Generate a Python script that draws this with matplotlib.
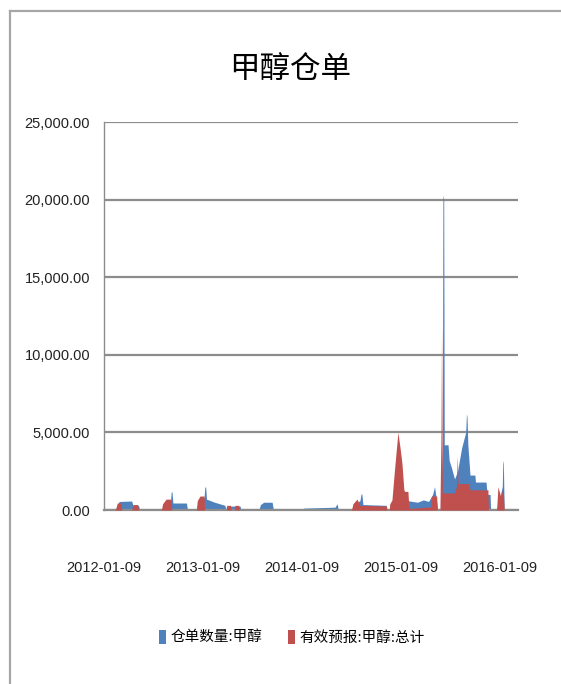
import matplotlib
matplotlib.use("Agg")
import matplotlib.pyplot as plt
from matplotlib.patches import Patch
from matplotlib.lines import Line2D
import pandas as pd

# ---------------- data ----------------
title = "甲醇仓单"
series_names = ["仓单数量:甲醇", "有效预报:甲醇:总计"]
x_ticks = ["2012-01-09", "2013-01-09", "2014-01-09", "2015-01-09", "2016-01-09"]
y_ticks = [0, 5000, 10000, 15000, 20000, 25000]

blue_dates = [
    "2012-01-09", "2012-02-20", "2012-02-27", "2012-03-05", "2012-04-20", "2012-04-25", "2012-05-15", "2012-05-20",
    "2012-08-08", "2012-08-15", "2012-09-10", "2012-09-13", "2012-09-16", "2012-09-19", "2012-11-08", "2012-11-12",
    "2012-12-15", "2012-12-20", "2013-01-12", "2013-01-15", "2013-01-18", "2013-01-21", "2013-02-20", "2013-03-30", "2013-04-02",
    "2013-04-05", "2013-05-25", "2013-05-28",
    "2013-08-02", "2013-08-08", "2013-08-20", "2013-09-20", "2013-09-25",
    "2014-01-10", "2014-01-15", "2014-05-10", "2014-05-18", "2014-05-22",
    "2014-07-10", "2014-07-20", "2014-08-10", "2014-08-14", "2014-08-17", "2014-08-21", "2014-11-15", "2014-11-18",
    "2015-02-01", "2015-02-03", "2015-03-10", "2015-04-01", "2015-04-20", "2015-05-05", "2015-05-12", "2015-05-18", "2015-05-24",
    "2015-06-03", "2015-06-10", "2015-06-12", "2015-06-15", "2015-06-17", "2015-07-01", "2015-07-05", "2015-07-14", "2015-07-25",
    "2015-08-05", "2015-08-20", "2015-09-04", "2015-09-07", "2015-09-09", "2015-09-12", "2015-09-20", "2015-10-08", "2015-10-10",
    "2015-11-18", "2015-11-22", "2015-12-03", "2015-12-05",
    "2015-12-27", "2016-01-05", "2016-01-17", "2016-01-19", "2016-01-21", "2016-01-24",
]
blue_values = [
    0, 0, 300, 550, 580, 300, 300, 0,
    0, 300, 500, 1160, 1160, 450, 450, 0,
    0, 500, 800, 1480, 1480, 700, 500, 300, 0,
    250, 250, 0,
    0, 350, 500, 500, 0,
    0, 120, 180, 400, 0,
    0, 400, 600, 1030, 1030, 350, 300, 0,
    0, 600, 500, 650, 550, 1000, 1500, 800, 0,
    0, 4000, 20300, 20000, 4200, 4200, 3200, 2700, 2000,
    2500, 4000, 5000, 6200, 6000, 4200, 2250, 2250, 1800,
    1800, 1000, 1000, 0,
    0, 600, 1500, 3200, 3000, 0,
]

red_dates = [
    "2012-01-09", "2012-02-20", "2012-02-27", "2012-03-10", "2012-03-15", "2012-04-20", "2012-04-25", "2012-05-12", "2012-05-15",
    "2012-08-08", "2012-08-12", "2012-08-25", "2012-09-12", "2012-09-15",
    "2012-12-15", "2012-12-18", "2012-12-28", "2013-01-12", "2013-01-14",
    "2013-04-05", "2013-04-06", "2013-04-20", "2013-04-22", "2013-05-05", "2013-05-06", "2013-05-20", "2013-05-22",
    "2014-07-10", "2014-07-15", "2014-07-30", "2014-08-10", "2014-11-15", "2014-11-18",
    "2014-11-26", "2014-11-28", "2014-12-06", "2014-12-15", "2014-12-28", "2015-01-05", "2015-01-12", "2015-01-19",
    "2015-01-22", "2015-02-03", "2015-02-06", "2015-02-10", "2015-04-28", "2015-05-01", "2015-05-20", "2015-05-22",
    "2015-06-01", "2015-06-05", "2015-06-07", "2015-06-10", "2015-07-25", "2015-08-01", "2015-08-04", "2015-08-07",
    "2015-09-15", "2015-09-20", "2015-11-25", "2015-11-27",
    "2015-12-27", "2016-01-01", "2016-01-12", "2016-01-20", "2016-01-24",
]
red_values = [
    0, 0, 450, 450, 0, 0, 350, 350, 0,
    0, 400, 700, 700, 0,
    0, 600, 900, 900, 0,
    0, 300, 300, 0, 0, 300, 300, 0,
    0, 400, 700, 300, 260, 0,
    0, 400, 640, 2500, 5000, 4000, 3000, 1300,
    1200, 1200, 300, 100, 200, 900, 900, 0,
    0, 5000, 11800, 1100, 1100, 1500, 3500, 1700,
    1700, 1300, 1300, 0,
    0, 1500, 800, 1500, 0,
]

# ---------------- figure ----------------
W, H = 561, 684
fig = plt.figure(figsize=(W / 100, H / 100), dpi=100)
fig.patch.set_facecolor("white")

cjk = ["Noto Sans CJK SC", "DejaVu Sans"]
latin = ["Liberation Sans", "DejaVu Sans"]

# outer chart frame (top and left edges visible)
fig.add_artist(Line2D([10 / W, 1.0], [1 - 11 / H, 1 - 11 / H], color="#a6a6a6", lw=1.6, transform=fig.transFigure))
fig.add_artist(Line2D([10 / W, 10 / W], [0, 1 - 11 / H], color="#a6a6a6", lw=1.6, transform=fig.transFigure))

ax = fig.add_axes([104 / W, 1 - 510 / H, (518 - 104) / W, (510 - 122) / H])

bd = pd.to_datetime(blue_dates)
rd = pd.to_datetime(red_dates)
ax.fill_between(bd, blue_values, 0, color="#4f81bd", lw=0, zorder=2)
ax.fill_between(rd, red_values, 0, color="#c0504d", lw=0, zorder=3)

ax.set_xlim(pd.Timestamp("2012-01-09"), pd.Timestamp("2016-03-15"))
ax.set_ylim(0, 25000)

ax.set_yticks(y_ticks)
ax.set_yticklabels([f"{v:,.2f}" for v in y_ticks], family=latin, fontsize=10.5, color="#222222")
ax.set_xticks(pd.to_datetime(x_ticks))
ax.set_xticklabels(x_ticks, family=latin, fontsize=10.5, color="#222222")
ax.tick_params(axis="y", length=0, pad=10)
ax.tick_params(axis="x", length=0, pad=37)

ax.grid(axis="y", color="#8c8c8c", lw=1.6, zorder=1)
ax.grid(axis="x", visible=False)
ax.set_axisbelow(True)
for s in ["top", "right"]:
    ax.spines[s].set_visible(False)
ax.spines["left"].set_color("#8c8c8c")
ax.spines["left"].set_linewidth(1.0)
ax.spines["bottom"].set_color("#8c8c8c")
ax.spines["bottom"].set_linewidth(1.6)

fig.text(290 / W, 1 - 70 / H, title, family=cjk, fontsize=22, ha="center", va="center", color="#000000")

handles = [Patch(facecolor="#4f81bd", edgecolor="none"), Patch(facecolor="#c0504d", edgecolor="none")]
leg = fig.legend(handles, series_names, loc="center", bbox_to_anchor=(292 / W, 1 - 637 / H),
                 ncol=2, frameon=False, prop={"family": cjk, "size": 10.5},
                 handlelength=0.45, handleheight=1.1, handletextpad=0.3, columnspacing=1.8)

fig.savefig("out.png", dpi=100, facecolor="white")
